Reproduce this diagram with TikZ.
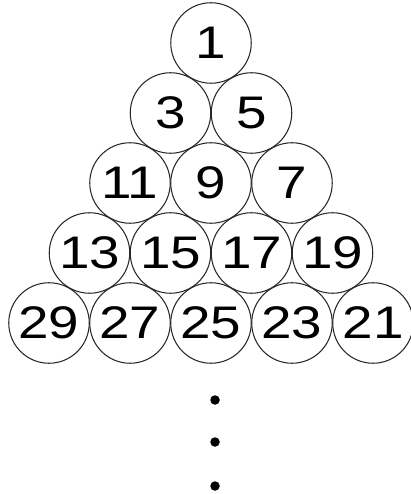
\documentclass[tikz,border=0pt]{standalone}
\usepackage{fontspec}
\setmainfont{Liberation Sans}[FakeStretch=1.2]
\usetikzlibrary{positioning}

\begin{document}
\begin{tikzpicture}[
            % Numbered balls
            ball/.style={draw, circle, minimum size=1.61cm, inner sep=0pt,
                    line width=0.6pt, color={rgb,255:red,40;green,40;blue,40},
                    text=black, font=\fontsize{26}{26}\selectfont},
            % Continuation dots
            dot/.style={circle, fill=black, minimum size=0.19cm, inner sep=0pt}
        ]

        \useasboundingbox (0,0) rectangle (8.2,-9.88);

        % Rows of the triangle: row/position/number
        \foreach \r/\k/\n in {0/0/1,
                              1/0/3, 1/1/5,
                              2/0/11, 2/1/9, 2/2/7,
                              3/0/13, 3/1/15, 3/2/17, 3/3/19,
                              4/0/29, 4/1/27, 4/2/25, 4/3/23, 4/4/21}
            \node[ball] (b\n) at ({4.22-0.81*\r+1.62*\k}, {-0.86-1.40*\r}) {\n};

        % Dots below
        \node[dot] (d1) at (4.3, -8.00) {};
        \node[dot] (d2) at (4.3, -8.84) {};
        \node[dot] (d3) at (4.3, -9.72) {};

    \end{tikzpicture}
\end{document}
